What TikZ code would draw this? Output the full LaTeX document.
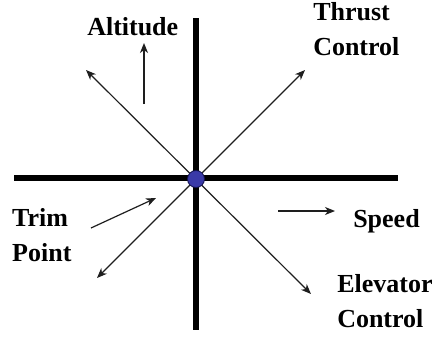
\documentclass[tikz,border=0pt]{standalone}
\usepackage{fontspec}
\setmainfont{Liberation Serif}
\usetikzlibrary{arrows.meta}
\definecolor{ink}{RGB}{0,0,0}
\definecolor{thin}{RGB}{30,30,30}
\definecolor{dot}{RGB}{58,58,168}
\definecolor{dotedge}{RGB}{20,20,80}
\tikzset{
  every picture/.style={line width=0.5pt},
  axis/.style={draw=ink, line width=5.5pt},
  move/.style={-{Stealth[length=10pt,width=8pt,inset=3pt]}, color=thin, line width=1.2pt},
  both/.style={{Stealth[length=10pt,width=8pt,inset=3pt]}-{Stealth[length=10pt,width=8pt,inset=3pt]}, color=thin, line width=1.2pt},
  word/.style={font=\fontsize{26}{35}\selectfont\bfseries, inner sep=0pt, align=left, anchor=base west},
  centre/.style={circle, draw=dotedge, fill=dot, line width=0.8pt, minimum size=17pt, inner sep=0pt},
}

\begin{document}
\begin{tikzpicture}[x=1pt, y=-1pt]
  \useasboundingbox (0,0) rectangle (440,351);
  % the two axes, crossing at the trim point
  \coordinate (W) at (14,178);
  \coordinate (E) at (398,178);
  \coordinate (N) at (196,18);
  \coordinate (S) at (196,330);
  \draw[axis] (W) -- (E);
  \draw[axis] (N) -- (S);
  % diagonals through the centre
  \coordinate (nw) at (86,70);
  \coordinate (se) at (311,294);
  \coordinate (ne) at (305,70);
  \coordinate (sw) at (97,278);
  \draw[both] (nw) -- (se);
  \draw[both] (sw) -- (ne);
  \node[centre] (trim) at (196,179) {};
  % labels and their small arrows (base = last line)
  \node[word] (alt) at (87,35) {Altitude};
  \node[word] (thrust) at (313,55) {Thrust\\Control};
  \node[word] (point) at (12,261) {Trim\\Point};
  \node[word] (speed) at (353,227) {Speed};
  \node[word] (elev) at (337,327) {Elevator\\Control};
  \coordinate (a0) at (144,104);
  \coordinate (a1) at (144,43);
  \coordinate (t0) at (91,228);
  \coordinate (t1) at (156,198);
  \coordinate (s0) at (278,211);
  \coordinate (s1) at (335,211);
  \draw[move] (a0) -- (a1);
  \draw[move] (t0) -- (t1);
  \draw[move] (s0) -- (s1);
\end{tikzpicture}
\end{document}
